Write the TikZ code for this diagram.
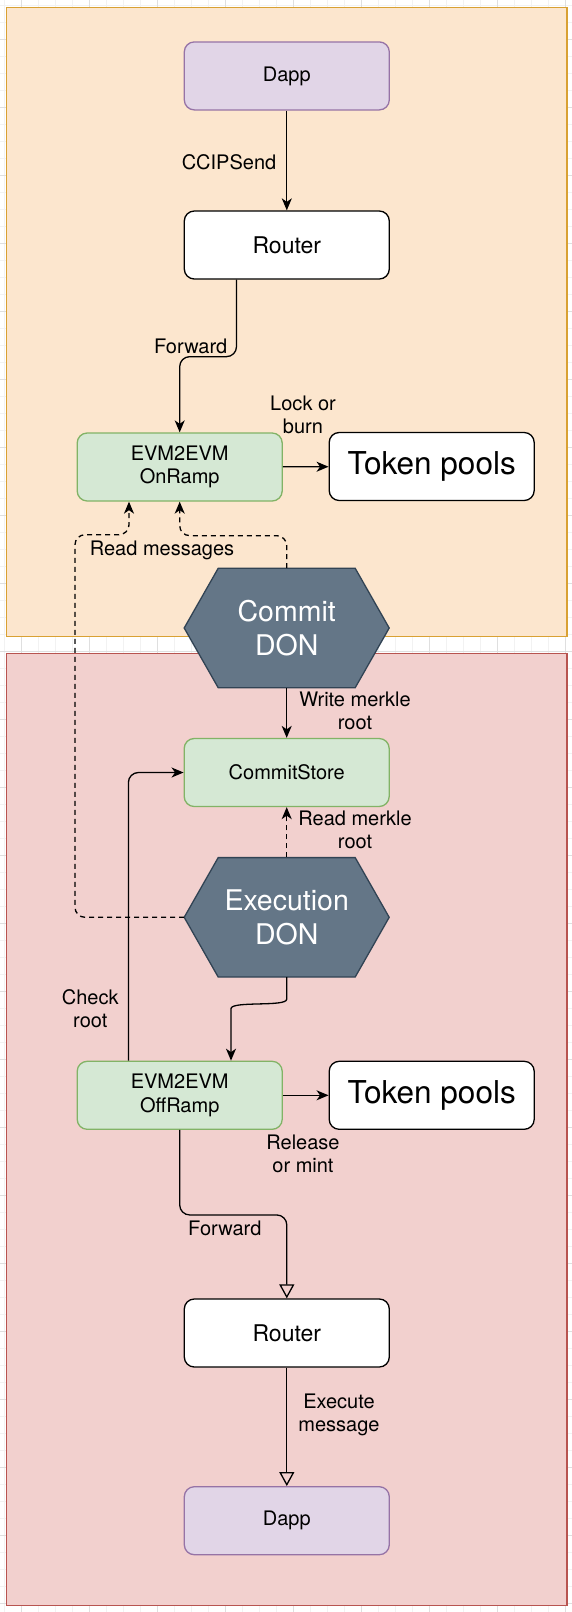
\documentclass[tikz,border=0pt]{standalone}
\usepackage{fontspec}
\setmainfont{TeX Gyre Heros}
\usetikzlibrary{arrows.meta, positioning, calc}

\definecolor{srcfill}{HTML}{FCE6CE}
\definecolor{srcline}{HTML}{D9A133}
\definecolor{dstfill}{HTML}{F2D0CE}
\definecolor{dstline}{HTML}{B85450}
\definecolor{dappfill}{HTML}{E1D5E7}
\definecolor{dappline}{HTML}{9673A6}
\definecolor{rampfill}{HTML}{D5E8D4}
\definecolor{rampline}{HTML}{82B366}
\definecolor{donfill}{HTML}{647687}
\definecolor{donline}{HTML}{314354}

\tikzset{
  box/.style={draw, rounded corners=10pt, line width=1.3pt, minimum width=205pt, minimum height=68pt, align=center, inner sep=0pt},
  dappbox/.style={box, fill=dappfill, draw=dappline, font=\fontsize{20}{23.6}\selectfont},
  routerbox/.style={box, fill=white, draw=black, font=\fontsize{23}{27}\selectfont},
  rampbox/.style={box, fill=rampfill, draw=rampline, font=\fontsize{20}{23.6}\selectfont},
  poolbox/.style={box, fill=white, draw=black, font=\fontsize{31.5}{36}\selectfont},
  don/.style={minimum width=205pt, minimum height=119.4pt, inner sep=0pt, align=center, text=white, font=\fontsize{28.5}{34}\selectfont},
  lbl/.style={align=center, inner sep=0pt, font=\fontsize{20}{23.6}\selectfont},
  flow/.style={line width=1.3pt, rounded corners=10pt, -{Stealth[length=12pt,width=10pt,inset=3.5pt]}},
  readline/.style={flow, dash pattern=on 5pt off 4pt},
  handoff/.style={line width=1.3pt, rounded corners=10pt, -{Triangle[open,length=14pt,width=15pt]}},
  gridminor/.style={line width=0.6pt, gray!10},
  gridmajor/.style={line width=0.6pt, gray!25},
}

% hexagon behind a DON node
\newcommand\donhex[1]{%
  \filldraw[fill=donfill, draw=donline, line width=1.3pt]
    ($(#1)+(-102.5,0)$) -- ($(#1)+(-68.5,-59.7)$) -- ($(#1)+(68.5,-59.7)$) --
    ($(#1)+(102.5,0)$) -- ($(#1)+(68.5,59.7)$) -- ($(#1)+(-68.5,59.7)$) -- cycle;}

\begin{document}
\begin{tikzpicture}[x=1pt, y=-1pt]
  \useasboundingbox (0,0) rectangle (572,1612);
  \fill[white] (0,0) rectangle (572,1612);

  % grid
  \foreach \gx in {4.7,21.7,...,572} \draw[gridminor] (\gx,0) -- (\gx,1612);
  \foreach \gy in {5.3,22.3,...,1612} \draw[gridminor] (0,\gy) -- (572,\gy);
  \foreach \gx in {21.7,89.7,...,572} \draw[gridmajor] (\gx,0) -- (\gx,1612);
  \foreach \gy in {39.3,107.3,...,1612} \draw[gridmajor] (0,\gy) -- (572,\gy);

  % chains
  \filldraw[fill=srcfill, draw=srcline, line width=1.3pt] (6.3,7.3) rectangle (567,636.7);
  \filldraw[fill=dstfill, draw=dstline, line width=1.3pt] (6.3,653.3) rectangle (567,1605.3);

  % DONs
  \coordinate (commitc) at (286.7,628);
  \coordinate (execc) at (286.7,917.3);
  \donhex{commitc}
  \donhex{execc}
  \node[don] (commit) at (commitc) {Commit\\DON};
  \node[don] (exec) at (execc) {Execution\\DON};

  % source side
  \node[dappbox] (dapp) at (286.8,75.9) {Dapp};
  \node[routerbox] (router) at (286.8,245) {Router};
  \node[rampbox] (onramp) at (179.7,467) {EVM2EVM\\OnRamp};
  \node[poolbox] (pools) at (431.7,466.5) {Token pools};

  % destination side
  \node[rampbox] (cstore) at (286.7,772.5) {CommitStore};
  \node[rampbox] (offramp) at (179.7,1095.3) {EVM2EVM\\OffRamp};
  \node[poolbox] (pools2) at (431.7,1095.3) {Token pools};
  \node[routerbox] (router2) at (286.8,1333) {Router};
  \node[dappbox] (dapp2) at (286.8,1520.7) {Dapp};

  % labels
  \node[lbl] (ccipLbl) at (229,162) {CCIPSend};
  \node[lbl] (fwdLbl) at (190.7,346) {Forward};
  \node[lbl] (lockLbl) at (303,415) {Lock or\\burn};
  \node[lbl] (readLbl) at (162,550) {Read messages};
  \node[lbl] (writeLbl) at (355,711) {Write merkle\\root};
  \node[lbl] (rootLbl) at (355,830) {Read merkle\\root};
  \node[lbl] (checkLbl) at (90.3,1008.5) {Check\\root};
  \node[lbl] (relLbl) at (303,1154) {Release\\or mint};
  \node[lbl] (fwd2Lbl) at (224.8,1228) {Forward};
  \node[lbl] (execLbl) at (339,1415) {Execute\\message};

  % connectors
  \draw[flow] (dapp) -- (router);
  \draw[flow] ([xshift=-50.3pt]router.south) -- ++(0,77) -| (onramp.north);
  \draw[flow] (onramp) -- (pools);
  \draw[readline] (commit.north) |- ([yshift=-34pt]onramp.south) -- (onramp.south);
  \draw[readline] (exec.west) -| (75,534.7) -| ([xshift=-50.7pt]onramp.south);
  \draw[flow] (commit.south) -- (cstore.north);
  \draw[readline] (exec.north) -- (cstore.south);
  \draw[flow] ([xshift=-51.3pt]offramp.north) |- (cstore.west);
  \draw[flow] (exec.south) -- ++(0,12) .. controls +(0,18) and +(0,-18) .. ([xshift=51.3pt,yshift=42pt]offramp.north) -- ([xshift=51.3pt]offramp.north);
  \draw[flow] (offramp) -- (pools2);
  \draw[handoff] (offramp.south) -- ++(0,85) -| (router2.north);
  \draw[handoff] (router2) -- (dapp2);
\end{tikzpicture}
\end{document}
